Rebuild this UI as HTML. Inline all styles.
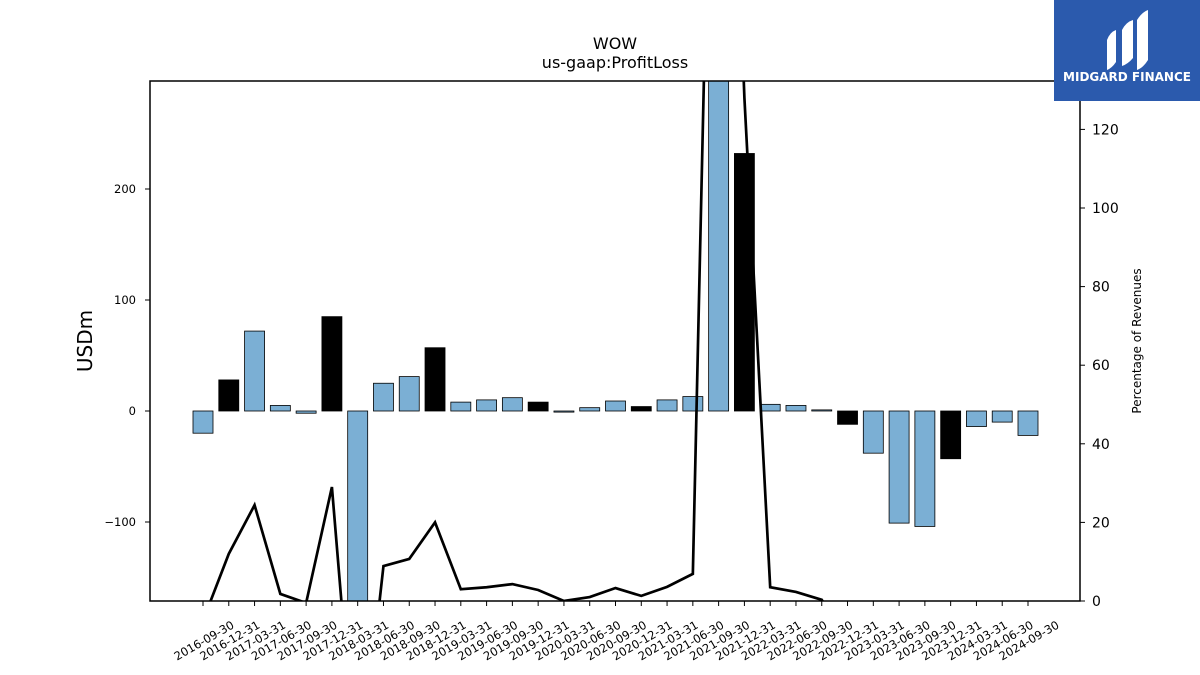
<!DOCTYPE html>
<html><head><meta charset="utf-8"><style>
html,body{margin:0;background:#fff;font-family:"DejaVu Sans","Liberation Sans",sans-serif;width:1200px;height:675px;overflow:hidden}
svg{display:block}
</style></head><body>
<svg id="chart" width="1200" height="675" xmlns="http://www.w3.org/2000/svg" font-family="DejaVu Sans, Liberation Sans, sans-serif">
<defs><clipPath id="pc"><rect x="150" y="81" width="930" height="520"/></clipPath></defs>
<text x="615" y="49" text-anchor="middle" font-size="16">WOW</text>
<text x="615" y="68" text-anchor="middle" font-size="16">us-gaap:ProfitLoss</text>
<g id="bars" clip-path="url(#pc)"></g>
<g id="line" clip-path="url(#pc)"></g>
<rect x="150" y="81" width="930" height="520" fill="none" stroke="#000" stroke-width="1.5"/>
<g id="axes"></g>
<text transform="translate(92,341) rotate(-90)" text-anchor="middle" font-size="20">USDm</text>
<text transform="translate(1141,341) rotate(-90)" text-anchor="middle" font-size="12">Percentage of Revenues</text>
<g>
<rect x="1054" y="0" width="146" height="101" fill="#2b5aad"/>
<path d="M1107 70 L1107 40 Q1110 32 1116 30 L1116 62 Q1112 68 1107 70Z" fill="#fff"/>
<path d="M1122 66 L1122 30 Q1126 22 1133 20 L1133 58 Q1128 64 1122 66Z" fill="#fff"/>
<path d="M1137 70 L1137 20 Q1142 12 1148 10 L1148 60 Q1143 68 1137 70Z" fill="#fff"/>
<text x="1127" y="81" text-anchor="middle" font-size="12" font-weight="bold" fill="#fff">MIDGARD FINANCE</text>
</g>
</svg>
<script>
const categories=["2016-09-30","2016-12-31","2017-03-31","2017-06-30","2017-09-30","2017-12-31","2018-03-31","2018-06-30","2018-09-30","2018-12-31","2019-03-31","2019-06-30","2019-09-30","2019-12-31","2020-03-31","2020-06-30","2020-09-30","2020-12-31","2021-03-31","2021-06-30","2021-09-30","2021-12-31","2022-03-31","2022-06-30","2022-09-30","2022-12-31","2023-03-31","2023-06-30","2023-09-30","2023-12-31","2024-03-31","2024-06-30","2024-09-30"];
const profitLoss=[-20,28,72,5,-2,85,-200,25,31,57,8,10,12,8,-1,3,9,4,10,13,320,232,6,5,1,-12,-38,-101,-104,-43,-14,-10,-22];
const pctRevenue=[-5,12,24.4,1.8,-0.5,29,-50,8.9,10.7,20,3,3.5,4.3,2.8,0,1,3.3,1.3,3.6,6.9,300,128,3.5,2.3,0.3,-10,-20,-60,-60,-20,-5,-5,-10];
const leftTicks=[-100,0,100,200];
const rightTicks=[0,20,40,60,80,100,120];
const NS="http://www.w3.org/2000/svg";
const x=i=>203+i*(1028-203)/(categories.length-1);
const yL=v=>411-v*1.11;
const yR=v=>601-v*3.93;
function mk(t,a,p){const e=document.createElementNS(NS,t);for(const k in a)e.setAttribute(k,a[k]);p.appendChild(e);return e;}
const bars=document.getElementById('bars'),line=document.getElementById('line'),axes=document.getElementById('axes');
categories.forEach((c,i)=>{
  const v=profitLoss[i],q4=c.endsWith('12-31');
  const r=mk('rect',{x:x(i)-10,y:Math.min(yL(v),yL(0)),width:20,height:Math.abs(yL(v)-yL(0)),fill:q4?'#000':'#7bafd4',stroke:'#000','stroke-width':0.8},bars);
  
  
  mk('line',{x1:x(i),x2:x(i),y1:601,y2:606,stroke:'#000'},axes);
  const t=mk('text',{transform:`translate(${x(i)+3},${644}) rotate(-30)`,'text-anchor':'middle','font-size':11.5},axes);
  t.textContent=c;
  
  
});
const pl=mk('polyline',{points:pctRevenue.map((v,i)=>x(i)+','+yR(v)).join(' '),fill:'none',stroke:'#000','stroke-width':2.7},line);


leftTicks.forEach(v=>{
  mk('line',{x1:145,x2:150,y1:yL(v),y2:yL(v),stroke:'#000'},axes);
  const t=mk('text',{x:136,y:yL(v)+4,'text-anchor':'end','font-size':11.5},axes);
  t.textContent=v<0?'\u2212'+(-v):v;
  
  
});
rightTicks.forEach(v=>{
  mk('line',{x1:1080,x2:1085,y1:yR(v),y2:yR(v),stroke:'#000'},axes);
  const t=mk('text',{x:1092,y:yR(v)+5,'font-size':14},axes);
  t.textContent=v;
  
  
});
</script>
</body></html>
